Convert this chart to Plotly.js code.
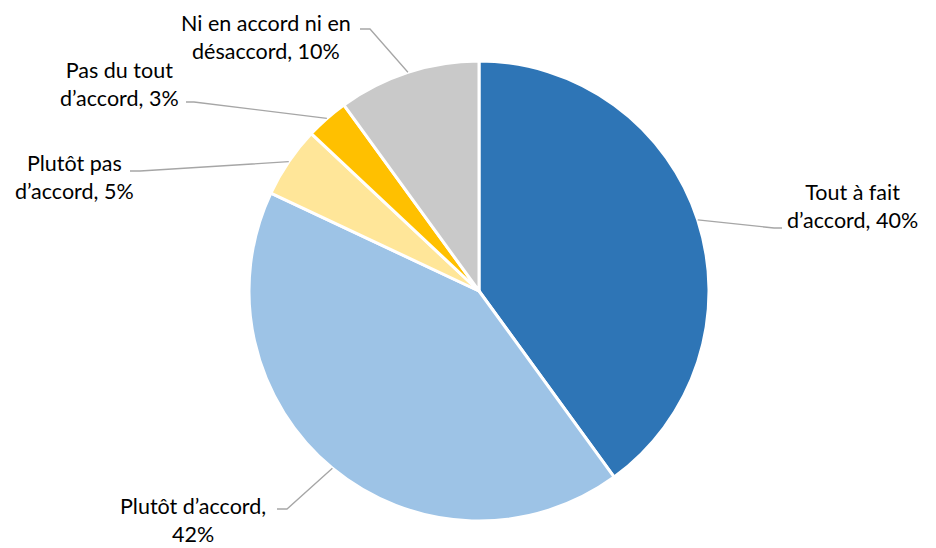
<!DOCTYPE html>
<html><head><meta charset="utf-8">
<script src="https://cdn.plot.ly/plotly-3.0.1.min.js"></script>
<style>html,body{margin:0;padding:0;background:#fff}</style>
</head><body><div id="chart" style="width:936px;height:548px"></div>
<script>
// Data
const categories = ["Tout à fait d’accord", "Plutôt d’accord", "Plutôt pas d’accord", "Pas du tout d’accord", "Ni en accord ni en désaccord"];
const values = [40, 42, 5, 3, 10];
const labelTexts = ["Tout à fait<br>d’accord, 40%", "Plutôt d’accord,<br>42%", "Plutôt pas<br>d’accord, 5%", "Pas du tout<br>d’accord, 3%", "Ni en accord ni en<br>désaccord, 10%"];
const colors = ["#2E75B6", "#9DC3E6", "#FFE699", "#FFC000", "#C9C9C9"];

// Layout geometry (pixels)
const W = 936, H = 548;
const cx = 479, cy = 291, R = 230;
// label block centres and leader-line elbow/end points
const labelPos = [[852, 206], [193, 520], [74, 177], [120, 84], [266, 37]];
const elbows = [[774, 228], [287, 509], [140, 171], [194, 102], [370, 29]];
const ends = [[782, 228], [277, 509], [130, 171], [186, 102], [360, 29]];

const px = x => x / W;
const py = y => 1 - y / H;

const total = values.reduce((a, b) => a + b, 0);
let cum = 0;
const shapes = [];
const annotations = [];
values.forEach((v, i) => {
  const mid = (cum + v / 2) / total * 2 * Math.PI;
  cum += v;
  const sx = cx + R * Math.sin(mid), sy = cy - R * Math.cos(mid);
  shapes.push({
    type: 'path', xref: 'paper', yref: 'paper',
    path: `M ${px(sx)} ${py(sy)} L ${px(elbows[i][0])} ${py(elbows[i][1])} L ${px(ends[i][0])} ${py(ends[i][1])}`,
    line: {color: '#A6A6A6', width: 1.3}
  });
  annotations.push({
    xref: 'paper', yref: 'paper', x: px(labelPos[i][0]), y: py(labelPos[i][1]),
    xanchor: 'center', yanchor: 'middle', showarrow: false, align: 'center',
    text: labelTexts[i], font: {family: 'Lato, "Liberation Sans", sans-serif', size: 21.5, color: '#000'}
  });
});

const trace = {
  type: 'pie', labels: categories, values: values, sort: false, direction: 'clockwise', rotation: 0,
  marker: {colors: colors, line: {color: '#fff', width: 3}},
  textinfo: 'none', hoverinfo: 'none', showlegend: false,
  domain: {x: [px(cx - R), px(cx + R)], y: [py(cy + R), py(cy - R)]}
};

Plotly.newPlot('chart', [trace], {
  width: W, height: H, margin: {l: 0, r: 0, t: 0, b: 0},
  paper_bgcolor: '#fff', plot_bgcolor: '#fff', showlegend: false,
  shapes: shapes, annotations: annotations
}, {displayModeBar: false, staticPlot: true});
</script></body></html>
